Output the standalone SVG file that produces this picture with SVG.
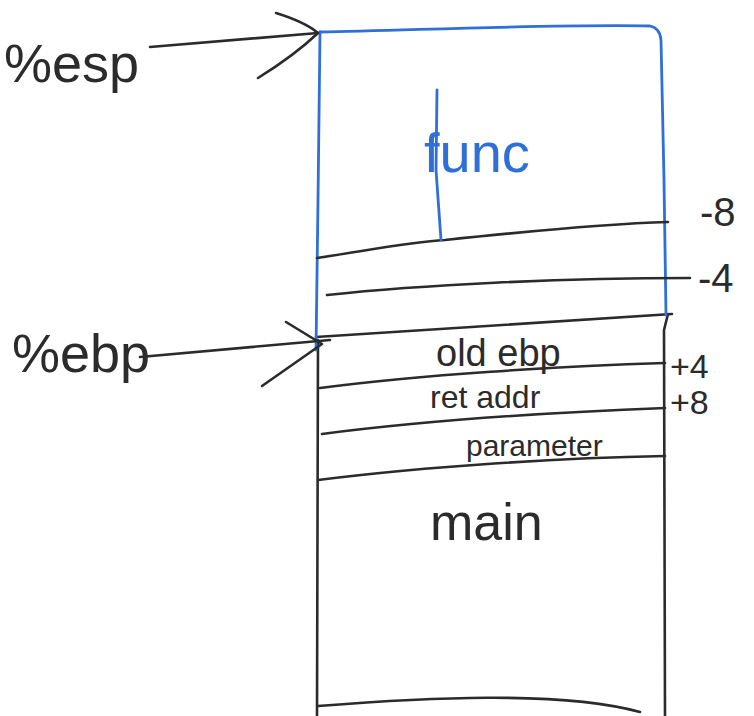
<svg xmlns="http://www.w3.org/2000/svg" width="754" height="716" viewBox="0 0 754 716">
<style>
.ink{fill:none;stroke:#2b2b2b;stroke-width:2.6;stroke-linecap:round;stroke-linejoin:round}
.blue{fill:none;stroke:#2f6fd8;stroke-width:2.8;stroke-linecap:round;stroke-linejoin:round}
.t{font-family:"Liberation Sans",Arial,sans-serif;fill:#2b2b2b}
.tb{font-family:"Liberation Sans",Arial,sans-serif;fill:#2f6fd8}
</style>
<rect width="754" height="716" fill="#ffffff"/>
<g id="main-frame">
<path class="ink" d="M318 340 L317 716"/>
<path class="ink" d="M668 314 L664 330 L665 716"/>
<path class="ink" d="M316 337 L672 314"/>
<path class="ink" d="M320 388 C420 375 560 366 665 363"/>
<path class="ink" d="M322 434 C430 420 560 412 665 408"/>
<path class="ink" d="M318 480 C430 466 560 458 665 456"/>
<path class="ink" d="M318 706 C420 698 560 690 640 712"/>
<text class="t" x="436" y="366" font-size="38">old ebp</text>
<text class="t" x="430" y="408" font-size="32">ret addr</text>
<text class="t" x="466" y="456" font-size="30">parameter</text>
<text class="t" x="430" y="540" font-size="52">main</text>
<text class="t" x="670" y="378" font-size="34">+4</text>
<text class="t" x="670" y="414" font-size="34">+8</text>
</g>
<g id="func-frame">
<path class="blue" d="M320 32 C420 30 560 24 650 26 Q660 28 661 40 L664 180 L666 315"/>
<path class="blue" d="M320 32 L318 200 L316 350"/>
<path class="ink" d="M317 258 C370 250 410 242 445 240 C520 232 600 224 668 222"/>
<path class="ink" d="M327 295 C420 285 560 278 690 278"/>
<text class="tb" x="424" y="172" font-size="56">func</text>
<path class="blue" d="M437 90 L436 170 L441 240"/>
<text class="t" x="700" y="226" font-size="40">-8</text>
<text class="t" x="698" y="292" font-size="40">-4</text>
</g>
<g id="esp-label">
<text class="t" x="4" y="82" font-size="54">%esp</text>
</g>
<g id="ebp-label">
<text class="t" x="12" y="372" font-size="54">%ebp</text>
</g>
<g id="connectors">
<path class="ink" d="M150 47 L318 33"/>
<path class="ink" d="M276 13 Q305 22 318 33 Q295 55 258 78"/>
<path class="ink" d="M140 357 L330 340"/>
<path class="ink" d="M286 322 L322 344 L262 386"/>
</g>
</svg>
